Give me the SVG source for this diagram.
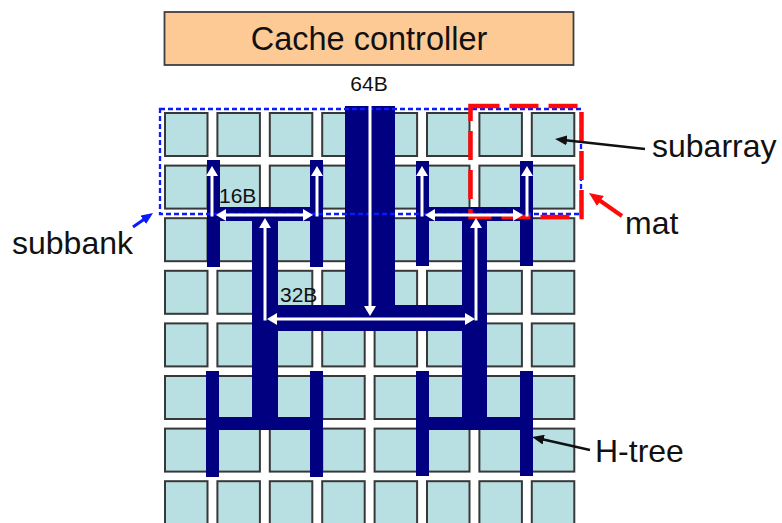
<svg xmlns="http://www.w3.org/2000/svg" xmlns:xlink="http://www.w3.org/1999/xlink" width="782" height="523" viewBox="0 0 782 523">
<style>
.box{fill:#b8dfe2;stroke:#383838;stroke-width:2}
.navy{fill:#000080}
.wl{stroke:#ffffff;stroke-width:3;fill:none;marker-end:url(#wa)}
.lbl{font-family:"Liberation Sans",Arial,sans-serif;fill:#111}
.big{font-size:32px}
.small{font-size:21px}
</style>
<defs>
<rect id="sa" width="42.5" height="43" class="box"/>
<marker id="wa" viewBox="0 0 10 12" markerWidth="10" markerHeight="12" refX="3" refY="6" orient="auto" markerUnits="userSpaceOnUse"><path d="M0,0 L10,6 L0,12 z" fill="#ffffff"/></marker>
<marker id="ka" viewBox="0 0 12 10" markerWidth="12" markerHeight="10" refX="6" refY="5" orient="auto" markerUnits="userSpaceOnUse"><path d="M0,0 L12,5 L0,10 z" fill="#111111"/></marker>
<marker id="ba" viewBox="0 0 12 10" markerWidth="12" markerHeight="10" refX="6" refY="5" orient="auto" markerUnits="userSpaceOnUse"><path d="M0,0 L12,5 L0,10 z" fill="#0a1aff"/></marker>
<marker id="ra" viewBox="0 0 14 12" markerWidth="14" markerHeight="12" refX="7" refY="6" orient="auto" markerUnits="userSpaceOnUse"><path d="M0,0 L14,6 L0,12 z" fill="#ff0a0a"/></marker>
</defs>
<rect width="782" height="523" fill="#ffffff"/>

<g id="cache-controller">
<rect x="164.5" y="12" width="409" height="53" fill="#fdca96" stroke="#3f3f3f" stroke-width="1.8"/>
<text class="lbl" x="369" y="50" font-size="32.5" text-anchor="middle">Cache controller</text>
</g>

<g id="subarrays">
<g id="row1"><use xlink:href="#sa" x="165" y="113"/><use xlink:href="#sa" x="217.4" y="113"/><use xlink:href="#sa" x="269.8" y="113"/><use xlink:href="#sa" x="322.2" y="113"/><use xlink:href="#sa" x="374.6" y="113"/><use xlink:href="#sa" x="427" y="113"/><use xlink:href="#sa" x="479.4" y="113"/><use xlink:href="#sa" x="531.8" y="113"/></g>
<g id="row2"><use xlink:href="#sa" x="165" y="165.6"/><use xlink:href="#sa" x="217.4" y="165.6"/><use xlink:href="#sa" x="269.8" y="165.6"/><use xlink:href="#sa" x="322.2" y="165.6"/><use xlink:href="#sa" x="374.6" y="165.6"/><use xlink:href="#sa" x="427" y="165.6"/><use xlink:href="#sa" x="479.4" y="165.6"/><use xlink:href="#sa" x="531.8" y="165.6"/></g>
<g id="row3"><use xlink:href="#sa" x="165" y="218.2"/><use xlink:href="#sa" x="217.4" y="218.2"/><use xlink:href="#sa" x="269.8" y="218.2"/><use xlink:href="#sa" x="322.2" y="218.2"/><use xlink:href="#sa" x="374.6" y="218.2"/><use xlink:href="#sa" x="427" y="218.2"/><use xlink:href="#sa" x="479.4" y="218.2"/><use xlink:href="#sa" x="531.8" y="218.2"/></g>
<g id="row4"><use xlink:href="#sa" x="165" y="270.8"/><use xlink:href="#sa" x="217.4" y="270.8"/><use xlink:href="#sa" x="269.8" y="270.8"/><use xlink:href="#sa" x="322.2" y="270.8"/><use xlink:href="#sa" x="374.6" y="270.8"/><use xlink:href="#sa" x="427" y="270.8"/><use xlink:href="#sa" x="479.4" y="270.8"/><use xlink:href="#sa" x="531.8" y="270.8"/></g>
<g id="row5"><use xlink:href="#sa" x="165" y="323.4"/><use xlink:href="#sa" x="217.4" y="323.4"/><use xlink:href="#sa" x="269.8" y="323.4"/><use xlink:href="#sa" x="322.2" y="323.4"/><use xlink:href="#sa" x="374.6" y="323.4"/><use xlink:href="#sa" x="427" y="323.4"/><use xlink:href="#sa" x="479.4" y="323.4"/><use xlink:href="#sa" x="531.8" y="323.4"/></g>
<g id="row6"><use xlink:href="#sa" x="165" y="376"/><use xlink:href="#sa" x="217.4" y="376"/><use xlink:href="#sa" x="269.8" y="376"/><use xlink:href="#sa" x="322.2" y="376"/><use xlink:href="#sa" x="374.6" y="376"/><use xlink:href="#sa" x="427" y="376"/><use xlink:href="#sa" x="479.4" y="376"/><use xlink:href="#sa" x="531.8" y="376"/></g>
<g id="row7"><use xlink:href="#sa" x="165" y="428.6"/><use xlink:href="#sa" x="217.4" y="428.6"/><use xlink:href="#sa" x="269.8" y="428.6"/><use xlink:href="#sa" x="322.2" y="428.6"/><use xlink:href="#sa" x="374.6" y="428.6"/><use xlink:href="#sa" x="427" y="428.6"/><use xlink:href="#sa" x="479.4" y="428.6"/><use xlink:href="#sa" x="531.8" y="428.6"/></g>
<g id="row8"><use xlink:href="#sa" x="165" y="481.2"/><use xlink:href="#sa" x="217.4" y="481.2"/><use xlink:href="#sa" x="269.8" y="481.2"/><use xlink:href="#sa" x="322.2" y="481.2"/><use xlink:href="#sa" x="374.6" y="481.2"/><use xlink:href="#sa" x="427" y="481.2"/><use xlink:href="#sa" x="479.4" y="481.2"/><use xlink:href="#sa" x="531.8" y="481.2"/></g>
</g>

<g id="htree">
<rect class="navy" x="345" y="106" width="50" height="225"/>
<rect class="navy" x="252" y="305" width="235" height="26"/>
<rect class="navy" x="252" y="207" width="26" height="223"/>
<rect class="navy" x="462" y="207" width="25" height="223"/>
<rect class="navy" x="207" y="160" width="13" height="107"/>
<rect class="navy" x="310" y="160" width="13" height="107"/>
<rect class="navy" x="207" y="207" width="116" height="14"/>
<rect class="navy" x="416" y="161" width="13" height="105"/>
<rect class="navy" x="520" y="161" width="13" height="105"/>
<rect class="navy" x="416" y="207" width="117" height="14"/>
<rect class="navy" x="206" y="371" width="13" height="106"/>
<rect class="navy" x="310" y="371" width="13" height="106"/>
<rect class="navy" x="206" y="417" width="117" height="13"/>
<rect class="navy" x="416" y="371" width="13" height="105"/>
<rect class="navy" x="520" y="371" width="13" height="105"/>
<rect class="navy" x="416" y="417" width="117" height="13"/>
</g>

<g id="subbank-outline">
<rect x="160" y="109" width="421" height="105" fill="none" stroke="#0a1aff" stroke-width="2.3" stroke-dasharray="5 3"/>
</g>
<g id="mat-outline">
<rect x="470.5" y="106" width="111" height="111" fill="none" stroke="#ff0a0a" stroke-width="4.5" stroke-dasharray="29 10"/>
</g>

<g id="connectors">
<path class="wl" d="M370,80 L370,309" stroke-width="5"/>
<path class="wl" d="M370,319 L274,319"/>
<path class="wl" d="M370,319 L468,319"/>
<path class="wl" d="M265,320.5 L265,225"/>
<path class="wl" d="M476,320.5 L476,225"/>
<path class="wl" d="M265,215 L223,215"/>
<path class="wl" d="M265,215 L306,215"/>
<path class="wl" d="M212,216.5 L212,173"/>
<path class="wl" d="M317,216.5 L317,173"/>
<path class="wl" d="M476,215 L432,215"/>
<path class="wl" d="M476,215 L516,215"/>
<path class="wl" d="M422,216.5 L422,173"/>
<path class="wl" d="M527,216.5 L527,173"/>
<path d="M645,149 L561,139.7" stroke="#111" stroke-width="2.5" fill="none" marker-end="url(#ka)"/>
<path d="M590,450 L537.9,438.3" stroke="#111" stroke-width="2.5" fill="none" marker-end="url(#ka)"/>
<path d="M622,216 L594.7,197" stroke="#ff0a0a" stroke-width="4" fill="none" marker-end="url(#ra)"/>
<path d="M133,227 L148.1,216.4" stroke="#0a1aff" stroke-width="3" fill="none" marker-end="url(#ba)"/>
</g>

<g id="labels">
<text class="lbl small" x="369" y="91" text-anchor="middle">64B</text>
<text class="lbl small" x="219" y="203">16B</text>
<text class="lbl small" x="280" y="302">32B</text>
<text class="lbl big" x="12" y="254">subbank</text>
<text class="lbl big" x="652" y="157">subarray</text>
<text class="lbl big" x="625" y="234">mat</text>
<text class="lbl big" x="595" y="462">H-tree</text>
</g>
</svg>
